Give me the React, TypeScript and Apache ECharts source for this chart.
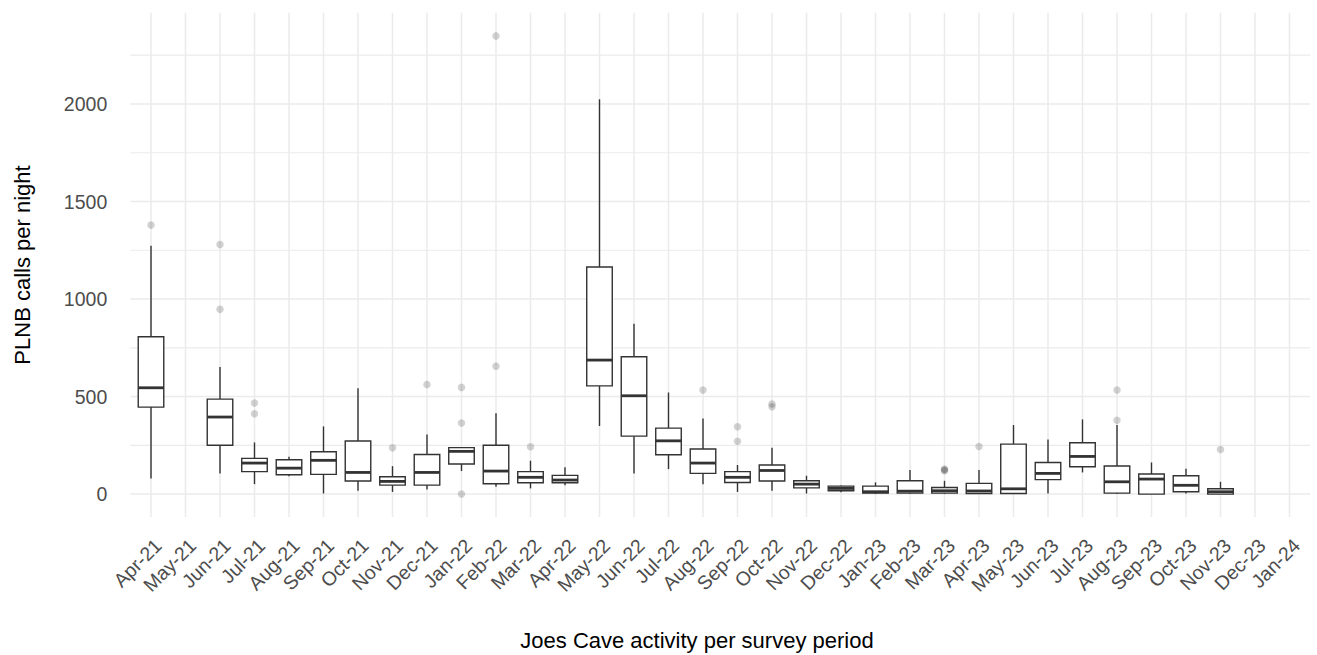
import React, { useEffect, useRef } from "react";
import * as echarts from "echarts";

// Survey periods (months) shown on the x axis
const categories = [
  "Apr-21", "May-21", "Jun-21", "Jul-21", "Aug-21", "Sep-21", "Oct-21", "Nov-21",
  "Dec-21", "Jan-22", "Feb-22", "Mar-22", "Apr-22", "May-22", "Jun-22", "Jul-22",
  "Aug-22", "Sep-22", "Oct-22", "Nov-22", "Dec-22", "Jan-23", "Feb-23", "Mar-23",
  "Apr-23", "May-23", "Jun-23", "Jul-23", "Aug-23", "Sep-23", "Oct-23", "Nov-23",
  "Dec-23", "Jan-24",
];

// Box statistics per period: [lower whisker, Q1, median, Q3, upper whisker]; null = no survey
const boxStats: (number[] | null)[] = [
  [80, 446, 545, 807, 1273],
  null,
  [106, 250, 395, 487, 651],
  [51, 115, 159, 183, 265],
  [91, 99, 133, 176, 191],
  [3, 101, 173, 217, 347],
  [17, 67, 111, 272, 542],
  [11, 46, 65, 89, 143],
  [24, 46, 111, 203, 306],
  [118, 154, 219, 238, 240],
  [38, 53, 118, 250, 414],
  [29, 58, 86, 115, 171],
  [45, 58, 72, 96, 137],
  [349, 555, 687, 1164, 2024],
  [106, 297, 504, 704, 873],
  [128, 202, 273, 338, 521],
  [51, 106, 159, 231, 388],
  [11, 59, 86, 115, 149],
  [17, 67, 121, 149, 238],
  [3, 32, 51, 68, 94],
  [9, 17, 29, 41, 44],
  [0, 5, 12, 41, 60],
  [0, 5, 15, 68, 123],
  [0, 5, 17, 34, 68],
  [0, 3, 16, 55, 123],
  [0, 3, 27, 256, 354],
  [3, 74, 106, 162, 280],
  [111, 140, 193, 263, 383],
  [0, 5, 63, 144, 354],
  [0, 0, 77, 103, 162],
  [3, 12, 45, 94, 130],
  [0, 0, 12, 27, 63],
  null,
  null,
];

// Outlying nights: [period, calls]
const outliers: [string, number][] = [
  ["Apr-21", 1379],
  ["Jun-21", 1279], ["Jun-21", 947],
  ["Jul-21", 467], ["Jul-21", 412],
  ["Nov-21", 237],
  ["Dec-21", 562],
  ["Jan-22", 547], ["Jan-22", 364], ["Jan-22", 0],
  ["Feb-22", 2349], ["Feb-22", 656],
  ["Mar-22", 243],
  ["Aug-22", 533],
  ["Sep-22", 345], ["Sep-22", 271],
  ["Oct-22", 462], ["Oct-22", 448],
  ["Mar-23", 128], ["Mar-23", 124], ["Mar-23", 120],
  ["Apr-23", 244],
  ["Aug-23", 533], ["Aug-23", 378],
  ["Nov-23", 229],
];

// Axis ticks and gridlines
const yTickValues = [0, 500, 1000, 1500, 2000];
const yMinorValues = [250, 750, 1250, 1750, 2250];
const yLimits = [-117.5, 2467.5];

const xTitle = "Joes Cave activity per survey period";
const yTitle = "PLNB calls per night";

const FONT = "'Liberation Sans', Arial, sans-serif";
const GRID_COLOR = "#ebebeb";
const BOX_COLOR = "#333333";
// panel padding beyond the outer category bands (fraction of a band)
const X_PAD = 0.1;

export default function App() {
  const ref = useRef<HTMLDivElement>(null);

  useEffect(() => {
    if (!ref.current) return;
    const chart = echarts.init(ref.current, undefined, { renderer: "svg" });

    const boxData = boxStats
      .map((s, i) => (s ? [i, ...s] : null))
      .filter((d) => d !== null) as number[][];

    const hLines = [
      ...yTickValues.map((v) => [v, 1]),
      ...yMinorValues.map((v) => [v, 0]),
    ];

    const option: echarts.EChartsOption = {
      animation: false,
      backgroundColor: "#ffffff",
      grid: { left: 133.75, right: 10.25, top: 12.8, bottom: 138, containLabel: false },
      xAxis: {
        type: "category",
        data: categories,
        boundaryGap: true,
        axisLine: { show: false },
        axisTick: { show: false },
        splitLine: { show: false },
        axisLabel: {
          interval: 0,
          rotate: 45,
          margin: 18,
          align: "right",
          verticalAlign: "top",
          fontSize: 19.5,
          color: "#4d4d4d",
          fontFamily: FONT,
        },
      },
      yAxis: {
        type: "value",
        min: yLimits[0],
        max: yLimits[1],
        axisLine: { show: false },
        axisTick: { show: false },
        splitLine: { show: false },
        axisLabel: {
          margin: 26.5,
          fontSize: 19.5,
          color: "#4d4d4d",
          fontFamily: FONT,
          formatter: (v: number) => (yTickValues.includes(v) ? String(v) : ""),
        },
      },
      graphic: [
        {
          type: "text",
          x: 697,
          y: 640,
          style: {
            text: xTitle,
            fontSize: 22,
            fontFamily: FONT,
            fill: "#000000",
            textAlign: "center",
            textVerticalAlign: "middle",
          },
        },
        {
          type: "text",
          x: 22,
          y: 265,
          rotation: Math.PI / 2,
          style: {
            text: yTitle,
            fontSize: 22,
            fontFamily: FONT,
            fill: "#000000",
            textAlign: "center",
            textVerticalAlign: "middle",
          },
        },
      ],
      series: [
        {
          // horizontal gridlines (major and minor)
          type: "custom",
          silent: true,
          z: 0,
          data: hLines,
          renderItem: (params: any, api: any) => {
            const cs = params.coordSys;
            const pad = api.size([1, 0])[0] * X_PAD;
            const y = api.coord([0, api.value(0)])[1];
            const major = api.value(1) === 1;
            return {
              type: "line",
              shape: { x1: cs.x - pad, y1: y, x2: cs.x + cs.width + pad, y2: y },
              style: { stroke: GRID_COLOR, lineWidth: major ? 1.5 : 1.2 },
            };
          },
        },
        {
          // vertical gridlines at each period
          type: "custom",
          silent: true,
          z: 0,
          data: categories.map((_, i) => [i, 0]),
          renderItem: (params: any, api: any) => {
            const cs = params.coordSys;
            const x = api.coord([api.value(0), 0])[0];
            return {
              type: "line",
              shape: { x1: x, y1: cs.y, x2: x, y2: cs.y + cs.height },
              style: { stroke: GRID_COLOR, lineWidth: 1.5 },
            };
          },
        },
        {
          // box plots
          type: "custom",
          z: 2,
          data: boxData,
          encode: { x: 0, y: [1, 2, 3, 4, 5] },
          renderItem: (params: any, api: any) => {
            const i = api.value(0);
            const lo = api.coord([i, api.value(1)]);
            const q1 = api.coord([i, api.value(2)]);
            const md = api.coord([i, api.value(3)]);
            const q3 = api.coord([i, api.value(4)]);
            const hi = api.coord([i, api.value(5)]);
            const half = api.size([1, 0])[0] * 0.37;
            const x = lo[0];
            const lineStyle = { stroke: BOX_COLOR, lineWidth: 1.4 };
            return {
              type: "group",
              children: [
                { type: "line", shape: { x1: x, y1: lo[1], x2: x, y2: q1[1] }, style: lineStyle },
                { type: "line", shape: { x1: x, y1: q3[1], x2: x, y2: hi[1] }, style: lineStyle },
                {
                  type: "rect",
                  shape: { x: x - half, y: q3[1], width: half * 2, height: q1[1] - q3[1] },
                  style: { fill: "#ffffff", stroke: BOX_COLOR, lineWidth: 1.4 },
                },
                {
                  type: "line",
                  shape: { x1: x - half, y1: md[1], x2: x + half, y2: md[1] },
                  style: { stroke: BOX_COLOR, lineWidth: 2.8 },
                },
              ],
            };
          },
        },
        {
          // outlying nights
          type: "scatter",
          z: 3,
          symbol: "circle",
          symbolSize: 7.5,
          data: outliers,
          itemStyle: { color: "rgba(0,0,0,0.22)", borderWidth: 0 },
        },
      ],
    };

    chart.setOption(option);
    return () => chart.dispose();
  }, []);

  return (
    <div
      ref={ref}
      style={{ position: "absolute", left: 0, top: 0, width: 1317, height: 655 }}
    />
  );
}
